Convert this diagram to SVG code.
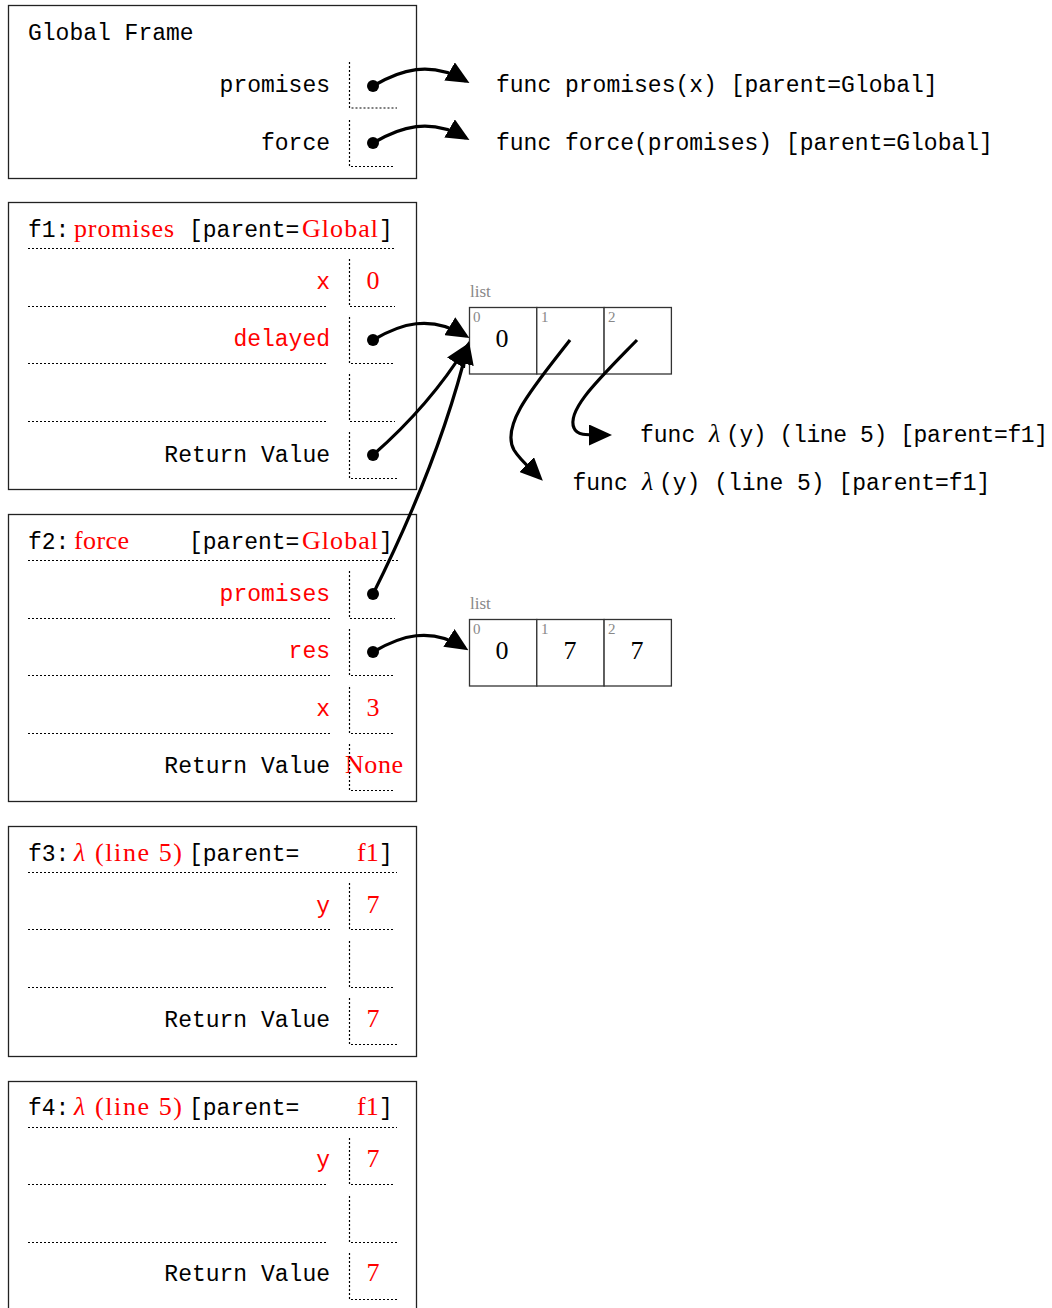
<svg xmlns="http://www.w3.org/2000/svg" width="1052" height="1308" viewBox="0 0 1052 1308">
<defs>
<style>
.frame{fill:none;stroke:#222;stroke-width:1.3}
.dl{fill:none;stroke:#000;stroke-width:1.2;stroke-dasharray:2 2}
.mono{font-family:"Liberation Mono","DejaVu Sans Mono",monospace;font-size:23px;fill:#000}
.serif{font-family:"Liberation Serif","DejaVu Serif",serif;font-size:26px;fill:#000}
.red{fill:#f00}
.val{text-anchor:middle}
.end{text-anchor:end}
.conn{fill:none;stroke:#000;stroke-width:3.2;marker-end:url(#ah)}
.dot{fill:#000}
.lbl{font-family:"Liberation Serif",serif;font-size:17px;fill:#888}
.idx{font-family:"Liberation Serif",serif;font-size:15px;fill:#888}
.box{fill:#fff;stroke:#333;stroke-width:1.3}
</style>
<marker id="ah" viewBox="0 0 23 21" refX="19" refY="10.5" markerWidth="23" markerHeight="21" markerUnits="userSpaceOnUse" orient="auto">
<path d="M0,0 L23,10.5 L0,21 z" fill="#000"/>
</marker>
</defs>
<rect width="1052" height="1308" fill="#fff"/>

<g id="global">
<rect class="frame" x="8.5" y="5.5" width="408" height="173"/>
<text class="mono" x="28" y="40">Global Frame</text>
<text class="mono end" x="330" y="92">promises</text>
<path class="dl" d="M349.5,62 V108 H397"/>
<text class="mono end" x="330" y="150">force</text>
<path class="dl" d="M349.5,120 V166.5 H395"/>
</g>

<g id="func-promises">
<text class="mono" x="496" y="92">func promises(x) [parent=Global]</text>
</g>
<g id="func-force">
<text class="mono" x="496" y="150">func force(promises) [parent=Global]</text>
</g>

<g id="f1">
<rect class="frame" x="8.5" y="202.5" width="408" height="287"/>
<text class="mono" x="28" y="237">f1:</text>
<text class="serif red" x="74" y="237" textLength="100">promises</text>
<text class="mono" x="189" y="237">[parent=</text>
<text class="serif red" x="302" y="237" textLength="76">Global</text>
<text class="mono" x="379" y="237">]</text>
<path class="dl" d="M28,248.5 H396"/>
<text class="mono red end" x="330" y="289">x</text>
<text class="serif red val" x="373" y="289">0</text>
<path class="dl" d="M28,306.5 H328 M349.5,259 V306.5 H395"/>
<text class="mono red end" x="330" y="346">delayed</text>
<path class="dl" d="M28,363.5 H328 M349.5,317 V363.5 H395"/>
<path class="dl" d="M28,421.5 H328 M349.5,374 V421.5 H395"/>
<text class="mono end" x="330" y="462">Return Value</text>
<path class="dl" d="M349.5,432 V478.5 H397"/>
</g>

<g id="f2">
<rect class="frame" x="8.5" y="514.5" width="408" height="287"/>
<text class="mono" x="28" y="549">f2:</text>
<text class="serif red" x="74" y="549" textLength="55">force</text>
<text class="mono" x="189" y="549">[parent=</text>
<text class="serif red" x="302" y="549" textLength="76">Global</text>
<text class="mono" x="379" y="549">]</text>
<path class="dl" d="M28,560.5 H398"/>
<text class="mono red end" x="330" y="601">promises</text>
<path class="dl" d="M28,618.5 H330 M349.5,571 V618.5 H395"/>
<text class="mono red end" x="330" y="658">res</text>
<path class="dl" d="M28,675.5 H330 M349.5,629 V675.5 H395"/>
<text class="mono red end" x="330" y="716">x</text>
<text class="serif red val" x="373" y="716">3</text>
<path class="dl" d="M28,733.5 H330 M349.5,687 V733.5 H395"/>
<text class="mono end" x="330" y="773">Return Value</text>
<text class="serif red" x="345" y="773" textLength="58">None</text>
<path class="dl" d="M349.5,744 V790.5 H395"/>
</g>

<g id="f3">
<rect class="frame" x="8.5" y="826.5" width="408" height="230"/>
<text class="mono" x="28" y="861">f3:</text>
<text class="serif red" x="74" y="861" textLength="108"><tspan font-style="italic">λ</tspan> (line 5)</text>
<text class="mono" x="189" y="861">[parent=</text>
<text class="serif red" x="357" y="861">f1</text>
<text class="mono" x="379" y="861">]</text>
<path class="dl" d="M28,872.5 H397"/>
<text class="mono red end" x="330" y="913">y</text>
<text class="serif red val" x="373" y="913">7</text>
<path class="dl" d="M28,929.5 H330 M349.5,883 V929.5 H395"/>
<path class="dl" d="M28,987.5 H328 M349.5,941 V987.5 H395"/>
<text class="mono end" x="330" y="1027">Return Value</text>
<text class="serif red val" x="373" y="1027">7</text>
<path class="dl" d="M349.5,998 V1044.5 H397"/>
</g>

<g id="f4">
<rect class="frame" x="8.5" y="1081.5" width="408" height="240"/>
<text class="mono" x="28" y="1115">f4:</text>
<text class="serif red" x="74" y="1115" textLength="108"><tspan font-style="italic">λ</tspan> (line 5)</text>
<text class="mono" x="189" y="1115">[parent=</text>
<text class="serif red" x="357" y="1115">f1</text>
<text class="mono" x="379" y="1115">]</text>
<path class="dl" d="M28,1127.5 H397"/>
<text class="mono red end" x="330" y="1167">y</text>
<text class="serif red val" x="373" y="1167">7</text>
<path class="dl" d="M28,1184.5 H328 M349.5,1138 V1184.5 H395"/>
<path class="dl" d="M28,1242.5 H328 M349.5,1196 V1242.5 H397"/>
<text class="mono end" x="330" y="1281">Return Value</text>
<text class="serif red val" x="373" y="1281">7</text>
<path class="dl" d="M349.5,1253 V1299.5 H397"/>
</g>

<g id="list1">
<text class="lbl" x="470" y="297">list</text>
<rect class="box" x="469.5" y="307.5" width="67.3" height="66.5"/>
<rect class="box" x="536.8" y="307.5" width="67.3" height="66.5"/>
<rect class="box" x="604.1" y="307.5" width="67.3" height="66.5"/>
<text class="idx" x="473" y="322">0</text>
<text class="idx" x="541" y="322">1</text>
<text class="idx" x="608" y="322">2</text>
<text class="serif val" x="502" y="347">0</text>
</g>

<g id="list2">
<text class="lbl" x="470" y="609">list</text>
<rect class="box" x="469.5" y="619.5" width="67.3" height="66.5"/>
<rect class="box" x="536.8" y="619.5" width="67.3" height="66.5"/>
<rect class="box" x="604.1" y="619.5" width="67.3" height="66.5"/>
<text class="idx" x="473" y="634">0</text>
<text class="idx" x="541" y="634">1</text>
<text class="idx" x="608" y="634">2</text>
<text class="serif val" x="502" y="659">0</text>
<text class="serif val" x="570" y="659">7</text>
<text class="serif val" x="637" y="659">7</text>
</g>

<g id="lambda1">
<text class="mono" x="640" y="442">func </text>
<text class="serif" x="709" y="442" font-style="italic">λ</text>
<text class="mono" x="726" y="442" textLength="322" lengthAdjust="spacing">(y) (line 5) [parent=f1]</text>
</g>
<g id="lambda2">
<text class="mono" x="572.5" y="490">func </text>
<text class="serif" x="642" y="490" font-style="italic">λ</text>
<text class="mono" x="659" y="490">(y) (line 5) [parent=f1]</text>
</g>

<g id="connectors">
<circle class="dot" cx="373" cy="86" r="6"/>
<path class="conn" d="M373,86 C400,70 430,60 466,81"/>
<circle class="dot" cx="373" cy="143" r="6"/>
<path class="conn" d="M373,143 C400,127 430,117 466,138"/>
<circle class="dot" cx="373" cy="340" r="6"/>
<path class="conn" d="M373,340 C400,324 430,314 466,336"/>
<circle class="dot" cx="373" cy="455" r="6"/>
<path class="conn" d="M373,455 Q430,405 466,347"/>
<circle class="dot" cx="373" cy="594" r="6"/>
<path class="conn" d="M373,594 Q440,460 468,345"/>
<circle class="dot" cx="373" cy="652" r="6"/>
<path class="conn" d="M373,652 C400,636 430,626 465,648"/>
<path class="conn" d="M570,340 C535,385 500,425 514,450 C520,460 530,468 540,478"/>
<path class="conn" d="M637,340 C600,378 566,410 574,428 C577,436 588,435 608,435"/>
</g>
</svg>
